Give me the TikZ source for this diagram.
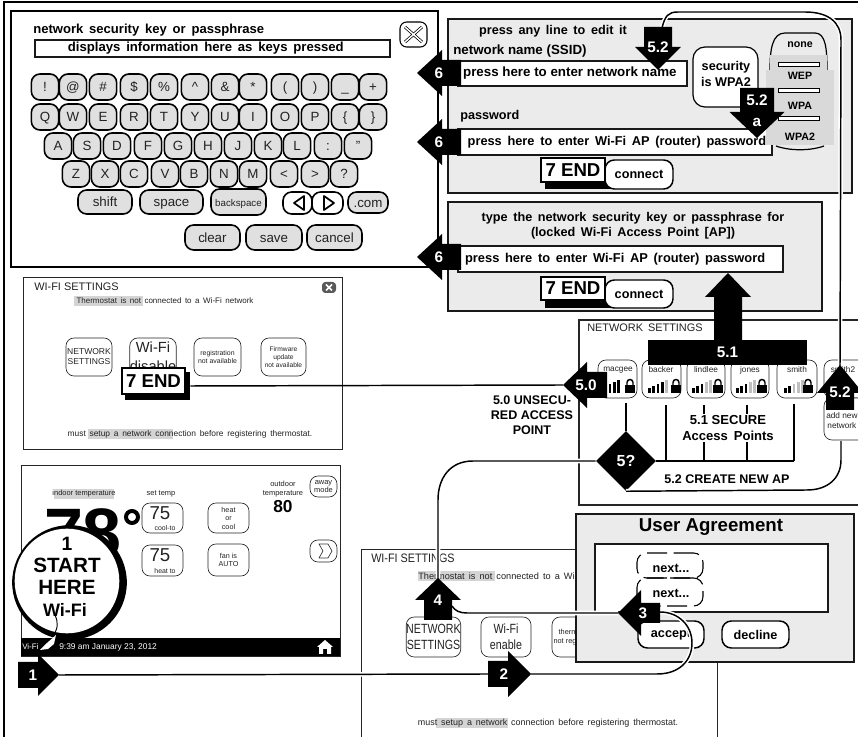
\documentclass[tikz,border=0pt]{standalone}
\usepackage{fontspec}
\usepackage{graphicx}
\setmainfont{Liberation Sans}
\usetikzlibrary{shapes.geometric}
\definecolor{panelgray}{HTML}{EBEBEB}
\definecolor{keygray}{HTML}{E0E0E0}
\definecolor{listgray}{HTML}{D9D9D9}
\definecolor{hlgray}{HTML}{D4D4D4}
\definecolor{txtgray}{HTML}{222222}
\tikzset{
  tr/.style={font=\fontsize{#1}{\fpeval{1.18*#1}}\selectfont,inner sep=0pt,align=center,text=txtgray},
  tb/.style={font=\fontsize{#1}{\fpeval{1.18*#1}}\selectfont\bfseries,inner sep=0pt,align=center,text=black},
  lab/.style={tb=11.5,text=white},
  keyb/.style={draw=black,line width=1.2pt,fill=keygray,rounded corners=6.5pt,inner sep=0pt,
     font=\fontsize{10}{12}\selectfont,text=txtgray,text height=7.2pt,text depth=0pt},
  scrn/.style={draw=black!85,line width=.7pt,fill=white},
  sbtn/.style={draw=black!85,line width=.5pt,fill=white,rounded corners=6pt,inner sep=0pt,align=center},
  panel/.style={draw=black!90,line width=1.1pt,fill=panelgray},
  field/.style={draw=black!90,line width=1.1pt,fill=white,inner sep=0pt},
  ubtn/.style={draw=black,line width=1.1pt,fill=white,rounded corners=7pt,inner sep=0pt,tb=9.5},
  conn/.style={draw=black,line width=1.1pt,preaction={draw=white,line width=3.4pt}},
  plain/.style={draw=black,line width=1.1pt},
  endb/.style={draw=black,line width=1pt,fill=white,inner sep=0pt,tb=14},
  shad/.style={fill=black,inner sep=0pt},
}
\newcommand{\rb}[7]{%
  \node[#1,minimum width=\fpeval{(#5-#3)*0.75}pt,minimum height=\fpeval{(#6-#4)*0.75}pt] (#2) at (\fpeval{(#3+#5)/2},\fpeval{(#4+#6)/2}) {#7};}
\def\arrbody#1/#2/#3/#4;{\def\arrL{#1}\fill[black] (0,0)--(#2,-#3)--(#2,-#4)--(#1,-#4)--(#1,#4)--(#2,#4)--(#2,#3)--cycle;}
\newcommand{\arr}[7]{%
  \begin{scope}[shift={(#2,#3)},rotate=#4]
    \arrbody#5;
    \node[lab] (#1) at (#6,0) {#7};
    \coordinate (#1-tip) at (0,0);
    \coordinate (#1-back) at (\arrL,0);
  \end{scope}}
\newcommand{\sig}[2]{%
  \foreach \i in {1,...,5}{%
    \pgfmathtruncatemacro{\c}{\i<=#2 ? 100 : 25}%
    \fill[black!\c] (\fpeval{#1+(\i-1)*4.3},393) rectangle ++(2.6,{-2.5-\i*2});
  }}
\newcommand{\lock}[1]{%
  \fill[black] (\fpeval{#1-4.8},385) rectangle ++(9.6,8);
  \draw[black,line width=1.1pt] (\fpeval{#1-3},385) -- ++(0,-2.5) arc[start angle=180,end angle=360,radius=3] -- ++(0,2.5);}
\begin{document}
\begin{tikzpicture}[x=0.75pt,y=-0.75pt]
\clip (0,0) rectangle (858,737);
\useasboundingbox (0,0) rectangle (858,737);
\fill[white] (0,0) rectangle (858,737);
\draw[black,line width=1pt] (4,737) -- (4,2) -- (858,2);

%% ---------- keyboard
\rb{draw=black,line width=1.2pt,fill=white}{kbd}{11}{11}{438}{267}{}
\node[tb=9.8,anchor=west] (kt) at (33,30) {network\, security\, key\, or\, passphrase};
\rb{field,tb=9.85}{kf}{35}{40}{390}{57}{\hspace*{-10pt}displays\, information\, here\, as\, keys\, pressed}
\rb{draw=black,line width=.8pt,fill=white,rounded corners=5pt}{xb}{400}{22}{427}{47}{}
\draw[black,line width=2.2pt] (405,27)--(422,42) (422,27)--(405,42);
\draw[white,line width=1.1pt] (405,27)--(422,42) (422,27)--(405,42);
\foreach \x/\t [count=\n] in {45/!,73/@,103/\#,134/\$,164/\%,195/\textasciicircum,225/\&,253/*,285/(,315/),345/\_,373/+}
  {\node[keyb,minimum width=20.5pt,minimum height=19.5pt] (ka\n) at (\x,87) {\t};}
\foreach \x/\t [count=\n] in {45/Q,73/W,103/E,134/R,164/T,195/Y,225/U,253/I,285/O,315/P,345/\{,373/\}}
  {\node[keyb,minimum width=20.5pt,minimum height=19.5pt] (kb\n) at (\x,117) {\t};}
\foreach \x/\t [count=\n] in {58/A,87/S,117/D,148/F,178/G,208/H,238/J,268/K,297/L,328/:,358/"}
  {\node[keyb,minimum width=20.5pt,minimum height=19.5pt] (kc\n) at (\x,146) {\t};}
\foreach \x/\t [count=\n] in {76/Z,105/X,134/C,165/V,194/B,224/N,253/M,284/<,315/>,344/?}
  {\node[keyb,minimum width=20.5pt,minimum height=19.5pt] (kd\n) at (\x,174) {\t};}
\rb{keyb}{kshift}{78}{190}{132}{214}{shift}
\rb{keyb}{kspace}{140}{190}{203}{214}{space}
\rb{keyb,font=\fontsize{7.3}{9}\selectfont}{kback}{211}{189}{266}{215}{backspace}
\rb{keyb,fill=white}{kleft}{283}{192}{312}{214}{}
\rb{keyb,fill=white}{kright}{312}{192}{343}{214}{}
\draw[black,line width=1.3pt,line join=round] (304,196)--(304,210)--(294,203)--cycle;
\draw[black,line width=1.3pt,line join=round] (324,196)--(324,210)--(334,203)--cycle;
\rb{keyb}{kcom}{348}{192}{388}{213}{.com}
\rb{keyb}{kclear}{185}{225}{240}{250}{c\kern-.6pt lear}
\rb{keyb}{ksave}{246}{225}{302}{250}{save}
\rb{keyb}{kcancel}{307}{225}{362}{250}{cancel}

%% ---------- Wi-Fi settings 1
\rb{scrn}{ws1}{23}{277}{342}{449}{}
\node[tr=8.2,anchor=west] (ws1t) at (34,287) {WI-FI SETTINGS};
\rb{fill=black!65,rounded corners=2.5pt}{ws1x}{322}{282}{336}{293}{}
\draw[white,line width=1.1pt] (326,284.5)--(332,290.5) (332,284.5)--(326,290.5);
\fill[hlgray] (74,296) rectangle (143,306);
\node[tr=6] (ws1m) at (165,301) {Thermostat\, is\, not\, connected\, to\, a\, Wi-Fi\, network};
\rb{sbtn,tr=6.4}{b11}{66}{338}{112}{376}{NETWORK\\SETTINGS}
\rb{sbtn,tr=11}{b12}{130}{338}{176}{376}{Wi-Fi\\[1pt]disable}
\rb{sbtn,tr=5.2}{b13}{194}{338}{241}{376}{registration\\not available}
\rb{sbtn,tr=5}{b14}{261}{338}{306}{376}{Firmware\\update\\not available}
\fill[hlgray] (88,429) rectangle (173,439);
\node[tr=6.3] (ws1b) at (190,434) {must\, setup\, a\, network\, connection\, before\, registering\, thermostat.};
\rb{shad}{e1s}{125}{372}{190}{400}{}
\rb{endb}{e1}{122}{368}{185}{394}{7 END}

%% ---------- thermostat
\rb{scrn}{th}{21}{465}{340}{656}{}
\fill[hlgray] (54,489) rectangle (114,499);
\node[tr=5.6] (t1) at (84,494) {indoor temperature};
\node[tr=5.6] (t2) at (161,494) {set temp};
\node[tr=5.6] (t3) at (283,489) {outdoor\\temperature};
\node[tb=13] (t80) at (283,507) {80};
\rb{sbtn,tr=5.6}{taway}{310}{476}{337}{497}{away\\mode}
\rb{sbtn}{tb1}{142}{503}{183}{533}{}
\node[tr=14] (tb1a) at (160,513) {75};
\node[tr=5.2] (tb1b) at (165,528) {cool-to};
\rb{sbtn}{tb2}{142}{545}{183}{576}{}
\node[tr=14] (tb2a) at (160,555) {75};
\node[tr=5.2] (tb2b) at (165,571) {heat to};
\rb{sbtn,tr=5.4}{tb3}{208}{503}{249}{533}{heat\\or\\cool}
\rb{sbtn,tr=5.4}{tb4}{208}{544}{249}{576}{fan is\\AUTO}
\rb{sbtn}{tb5}{310}{540}{337}{562}{}
\draw[black!80,line width=.5pt,line join=round] (319,544)--(328,544)--(332,551)--(328,558)--(319,558)--(323,551)--cycle;
\node[tb=52.5,anchor=base] (t78) at (83,558) {78};
\draw[black,line width=3pt] (132,517) circle[radius=6];
\fill[black] (21,638) rectangle (340,656);
\node[tr=6,text=white,anchor=west] (tv) at (22,647) {Vi-Fi};
\node[tr=6.3,text=white,anchor=west] (td) at (59,647) {9:39 am January 23, 2012};
\fill[white] (325,640) -- (333,647) -- (331,647) -- (331,654) -- (327,654) -- (327,649) -- (323,649) -- (323,654) -- (319,654) -- (319,647) -- (317,647) -- cycle;

%% ---------- Wi-Fi settings 2
\rb{scrn}{ws2}{361}{549}{717}{745}{}
\node[tr=9.2,anchor=west] (ws2t) at (371,558) {\scalebox{.88}[1]{WI-FI SETTINGS}};
\fill[hlgray] (418,571) rectangle (495,581);
\node[tr=6.9,anchor=west] (ws2m) at (418,576) {Thermostat\, is\, not\, connected\, to\, a\, Wi-Fi\, network};
\rb{sbtn,tr=10}{b21}{409}{617}{458}{657}{\scalebox{.8}[1]{NETWORK}\\\scalebox{.8}[1]{SETTINGS}}
\rb{sbtn,tr=10}{b22}{481}{617}{531}{657}{\scalebox{.8}[1]{Wi-Fi}\\\scalebox{.8}[1]{enable}}
\rb{sbtn,tr=5.5}{b23}{552}{617}{600}{657}{thermostat\\not registered}
\fill[hlgray] (436,718) rectangle (508,728);
\node[tr=6.7] (ws2b) at (548,723) {must\, setup\, a\, network\, connection\, before\, registering\, thermostat.};

%% ---------- user agreement
\rb{panel}{ua}{576}{514}{854}{662}{}
\node[tb=14] (uat) at (711,527) {User Agreement};
\rb{field}{uaf}{595}{544}{828}{612}{}
\rb{draw=black,line width=.8pt,rounded corners=7pt,dash pattern=on 15pt off 5pt,inner sep=0pt}{n1}{637}{553}{703}{578}{}
\rb{draw=black,line width=.8pt,rounded corners=7pt,dash pattern=on 15pt off 5pt,inner sep=0pt}{n2}{637}{578}{703}{606}{}
\node[tb=9.5] (n1t) at (671,568) {next...};
\node[tb=9.5] (n2t) at (671,593) {next...};
\rb{ubtn}{uacc}{638}{621}{704}{648}{accept}
\rb{ubtn}{udec}{722}{621}{789}{648}{decline}

%% ---------- top-right panel
\rb{panel}{p1}{448}{19}{852}{193}{}
\node[tb=9.5] (p1t) at (553,31) {press\, any\, line\, to\, edit\, it};
\node[tb=10,anchor=west] (p1n) at (453,51) {network name (SSID)};
\rb{field,tb=10}{f1}{458}{61}{687}{86}{\hspace*{-4pt}press here to enter network name}
\node[tb=9.5,anchor=west] (p1p) at (460,116) {password};
\rb{field,tb=9.6}{f2}{458}{129}{772}{155}{\hspace*{3pt}press\, here\, to\, enter\, Wi-Fi\, AP\, (router)\, password}
\rb{draw=black,line width=.9pt,fill=white,rounded corners=9pt,inner sep=0pt}{sec}{693}{47}{758}{107}{}
\node[tb=9.5] (sect) at (726,74) {security\\[.8pt]is WPA2};
\draw[black,line width=.9pt] (770,70) .. controls (770,50) and (772,33) .. (785,33) -- (815,33) .. controls (826,33) and (827,50) .. (827,70);
\fill[listgray] (770,55) rectangle (827,72);
\fill[listgray] (766,70) rectangle (834,145);
\draw[black,line width=.9pt] (776,146) .. controls (790,151) and (810,151) .. (824,146);
\node[tb=8] (lnone) at (800,45) {none};
\node[tb=8] (lwep) at (800,76) {WEP};
\node[tb=8] (lwpa) at (800,106) {WPA};
\node[tb=8] (lwpa2) at (800,137) {WPA2};
\rb{draw=black,line width=.7pt,fill=white,inner sep=0pt}{s1}{778}{62}{819}{66}{}
\rb{draw=black,line width=.7pt,fill=white,inner sep=0pt}{s2}{778}{88}{819}{92}{}
\rb{draw=black,line width=.7pt,fill=white,inner sep=0pt}{s3}{778}{116}{819}{120}{}
\rb{shad}{e2s}{545}{170}{610}{189}{}
\rb{ubtn}{c2}{605}{160}{673}{189}{connect}
\rb{endb}{e2}{541}{158}{605}{182}{7 END}

%% ---------- second panel
\rb{panel}{p2}{448}{202}{822}{311}{}
\node[tb=9.5] (p2t) at (633,226) {type\, the\, network\, security\, key\, or\, passphrase\, for\\(locked\, Wi-Fi\, Access\, Point\, [AP])};
\rb{field,tb=9.65}{f3}{458}{246}{783}{272}{\hspace*{-8pt}press\, here\, to\, enter\, Wi-Fi\, AP\, (router)\, password}
\rb{shad}{e3s}{545}{288}{610}{308}{}
\rb{ubtn}{c3}{605}{280}{673}{308}{connect}
\rb{endb}{e3}{541}{277}{605}{300}{7 END}

%% ---------- network settings
\draw[black!85,line width=.8pt] (858,320) -- (579,320) -- (579,505) -- (858,505);
\node[tr=8.2,anchor=west] (nst) at (587,328) {NETWORK\, SETTINGS};
\rb{sbtn}{ap1}{598}{360}{637}{398}{}
\rb{sbtn}{ap2}{642}{360}{681}{398}{}
\rb{sbtn}{ap3}{687}{360}{725}{398}{}
\rb{sbtn}{ap4}{731}{360}{769}{398}{}
\rb{sbtn}{ap5}{777}{360}{817}{398}{}
\rb{sbtn}{ap6}{824}{360}{875}{398}{}
\rb{sbtn}{ap7}{824}{398}{875}{440}{}
\foreach \x/\t [count=\n] in {618/macgee,661/backer,706/lindlee,750/jones,797/smith,843/smith2}
  {\node[tr=6.2] (apt\n) at (\x,370) {\t};}
\node[tr=6.2,anchor=west] (ap7t) at (826,420.5) {add new\\network};
\sig{600}{5} \sig{648}{4} \sig{692}{3} \sig{736}{3} \sig{784}{2}
\lock{630} \lock{676} \lock{718} \lock{762} \lock{808}

\node[shape=diamond,aspect=1,fill=black,inner sep=0pt,minimum width=45pt,minimum height=45pt] (q) at (626,461) {};
\node[lab,tb=12,text=white] (qt) at (626,461) {5?};
\draw[plain] (626,403) -- (q.north);
\draw[plain] (q.east) -- (794,461);
\draw[plain] (794,404) -- (794,461);
\draw[plain] (666,405) -- (666,461);
\draw[plain] (704,405) -- (704,461);
\draw[plain] (747,405) -- (747,461);
\node[tb=9.8,fill=white,inner sep=1pt] (sa) at (728,428) {5.1 SECURE\\Access\, Points};
\node[tb=9.4] (ca) at (727,479) {5.2 CREATE NEW AP};
\node[tb=9.4] (ua0) at (532,415) {5.0 UNSECU-\\RED ACCESS\\POINT};

%% ---------- connectors, then the arrows that end them
\coordinate (a1-tip) at (59,675);
\coordinate (a2-back) at (488,674);
\coordinate (a2-tip) at (531,674);
\coordinate (a3-tip) at (618,613);
\coordinate (a4-tip) at (438,578);
\draw[conn] (q.west) -- (473,461) .. controls (450,461) and (438,478) .. (438,500) -- (a4-tip);
\draw[conn] (a3-tip) -- (467,613) .. controls (460,613) and (455,611) .. (452,606);
\draw[conn] (a1-tip) -- (a2-back);
\draw[conn] (a2-tip) -- (657,674) .. controls (680,674) and (692,660) .. (692,643) .. controls (692,625) and (678,612) .. (660,612);
\draw[conn] (q.south) -- (807,490) .. controls (828,490) and (841,478) .. (841,460) -- (841,441);
\arr{a1}{59}{675}{180}{41/21/21/13}{26}{1}
\arr{a2}{531}{674}{180}{43/23/23/13}{27}{2}
\arr{a3}{618}{613}{0}{42/23/23/10}{25}{3}
\arr{a4}{438}{578}{270}{42/22/23/14}{22}{4}

\draw[conn] (840,366) -- (841,40) .. controls (841,22) and (828,12) .. (805,12) -- (678,12) .. controls (668,12) and (665,16) .. (662,28);
\arr{d52}{658}{70}{90}{43/23/23/14}{23}{5.2}
\arr{d52a}{757}{138}{90}{50/26/27.5/17}{27}{5.2\\[2pt]a}
\arr{r52}{840}{365}{270}{45/28/23/14}{27}{5.2}
\arr{a60}{563}{385}{0}{44/24/23/13}{23}{5.0}
\draw[plain] (e1s.east) -- (a60-tip);
\arr{a61}{417}{73}{0}{44/25/23/13}{22}{6}
\arr{a62}{417}{142}{0}{44/25/23/13}{22}{6}
\arr{a63}{417}{257}{0}{44/25/23/13}{22}{6}
\arr{a51}{728}{273}{270}{67/24/23/14}{40}{}
\rb{fill=black,inner sep=0pt,lab}{b51}{648}{340}{807}{365}{5.1}

%% ---------- start circle
\node[circle,fill=black,inner sep=0pt,minimum size=86pt] (cs) at (69.5,582.5) {};
\node[circle,fill=white,inner sep=0pt,minimum size=78.5pt] (c) at (67,581) {};
\node[tb=14.5] (c1) at (67,544) {1};
\node[tb=15.5] (c2t) at (67,565) {START};
\node[tb=15.5] (c3t) at (67,587) {HERE};
\node[tb=13.5] (c4t) at (65,610) {Wi-Fi};
\draw[black,line width=.7pt] (55,615) .. controls (58,622) and (59,628) .. (52,637);
\fill[white] (56,635) -- (47,643) -- (40,650) -- (48,649) -- (54,644) -- cycle;
\end{tikzpicture}
\end{document}
